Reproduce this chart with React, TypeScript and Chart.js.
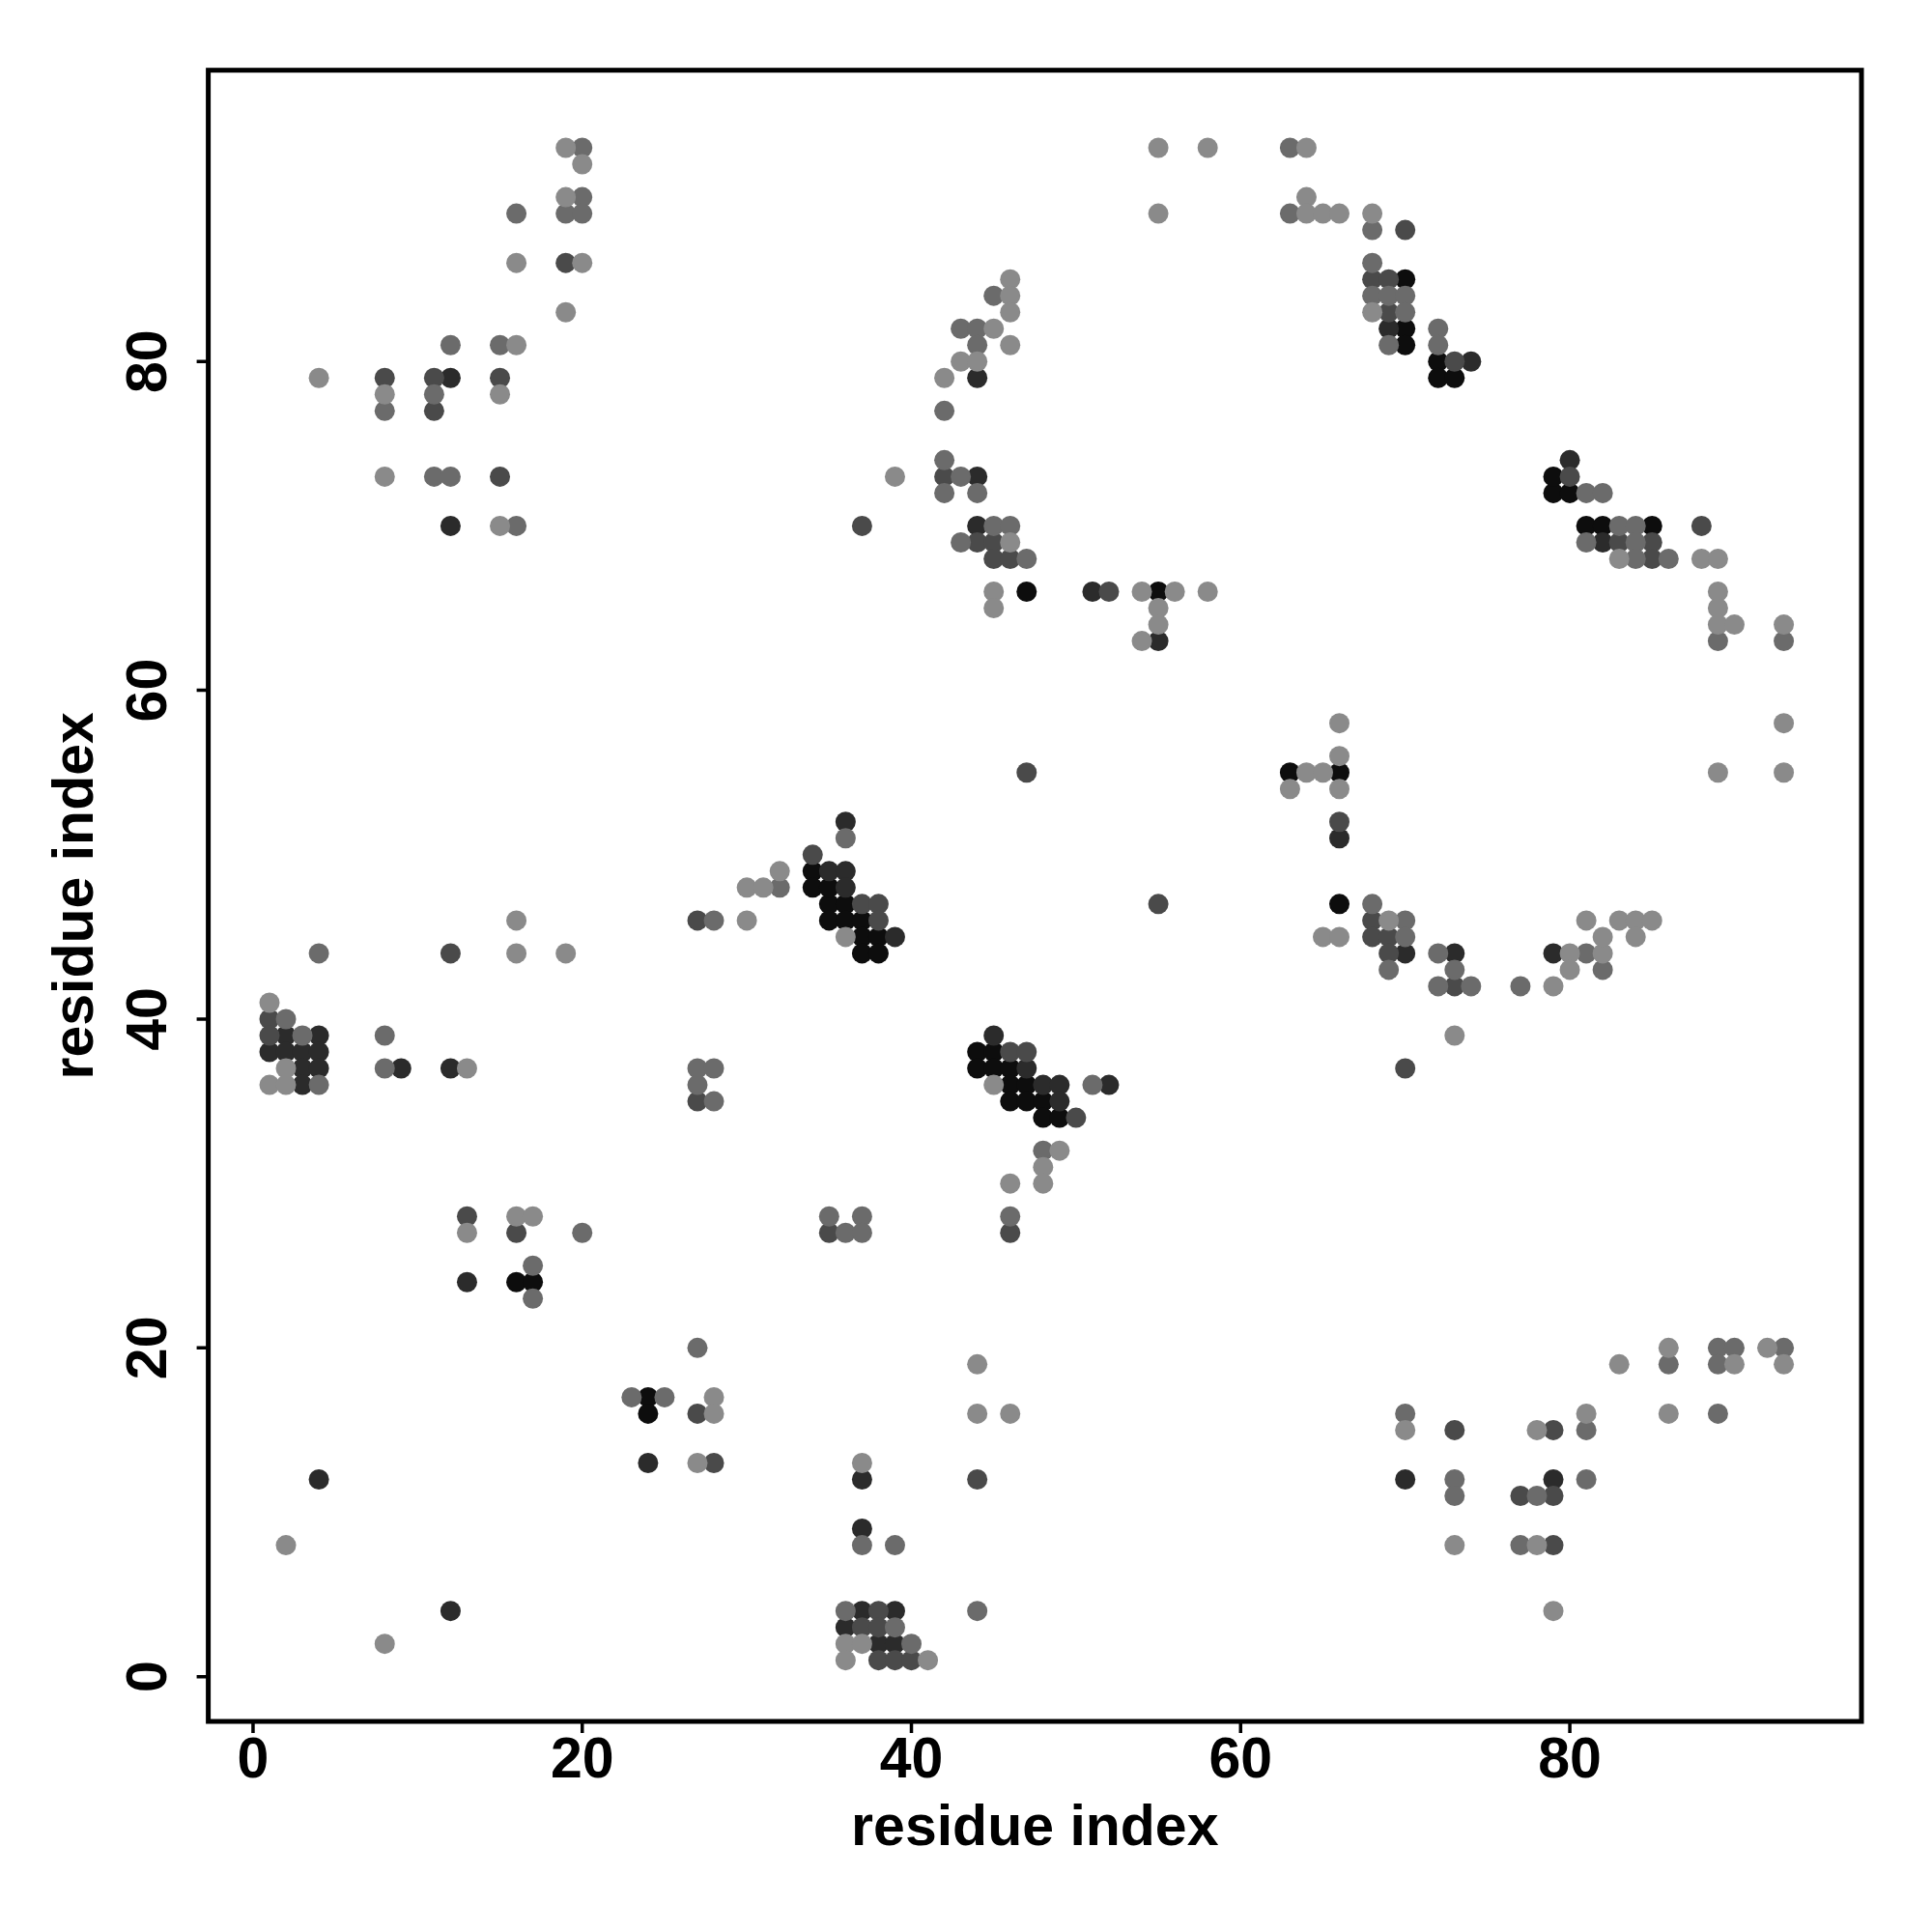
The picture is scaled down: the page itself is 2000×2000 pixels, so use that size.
import React, { useEffect, useRef } from "react";
import { Chart, registerables } from "chart.js";

Chart.register(...registerables);

// Contact points grouped by shade (x = residue index, y = residue index)
const lightPoints: number[][] = [
  [2,8],[8,2],[27,13],[28,17],[28,16],
  [37,13],[44,19],[44,16],[46,16],[36,2],[37,2],[36,1],[41,1],
  [70,15],[78,15],[81,16],[73,8],[78,8],[79,4],[83,19],[86,20],[86,16],[90,19],[92,20],[93,19],
  [16,46],[16,44],[19,44],[30,46],[1,41],[2,37],[1,36],[2,36],[13,37],[16,28],[17,28],[13,27],
  [45,36],[49,32],[48,31],[46,30],[48,30],[36,45],
  [69,46],[65,45],[66,45],[79,42],[80,44],[82,44],[80,43],[81,46],[83,46],[84,46],[85,46],[82,45],[84,45],[73,39],
  [15,70],[30,48],
  [46,69],[45,66],[54,66],[56,66],[58,66],[45,65],[55,65],[55,64],[54,63],[32,49],[31,48],
  [83,68],[88,68],[89,68],[89,66],[89,65],[89,64],[90,64],[93,64],[66,58],[93,58],[66,56],[64,55],[65,55],[89,55],[93,55],[63,54],[66,54],
  [19,93],[20,92],[19,90],[16,86],[20,86],[19,83],[16,81],[4,79],[8,78],[15,78],[8,73],
  [55,93],[58,93],[55,89],[46,85],[46,84],[46,83],[45,82],[46,81],[43,80],[44,80],[42,79],[39,73],
  [64,93],[64,90],[64,89],[65,89],[66,89],[68,89],[68,83],
];

const mediumPoints: number[][] = [
  [23,17],[25,17],[27,20],
  [37,8],[39,8],[44,4],[36,4],[39,3],[40,2],
  [70,16],[73,12],[73,11],[81,15],[81,12],[78,11],[77,8],[86,19],[89,20],[90,20],[89,19],[89,16],[93,20],
  [4,44],[28,46],[2,40],[3,39],[4,36],[8,39],[8,37],[27,37],[28,37],[27,36],[28,35],[20,27],[17,25],[17,23],
  [48,32],[51,36],[35,28],[37,28],[46,28],[36,27],[37,27],
  [68,47],[70,46],[70,45],[69,43],[72,44],[73,43],[72,42],[74,42],[77,42],[81,44],[82,43],
  [16,70],
  [42,72],[44,72],[45,70],[46,70],[43,69],[47,68],[36,51],[32,48],
  [83,70],[84,70],[81,69],[84,69],[84,68],[86,68],[89,63],[93,63],
  [81,72],[82,72],
  [20,93],[20,90],[19,89],[20,89],[16,89],[12,81],[15,81],[11,78],[8,77],[11,73],[12,73],
  [45,84],[43,82],[44,82],[44,81],[42,77],[42,74],[43,73],
  [63,93],[63,89],[68,88],[68,86],[68,84],[69,84],[70,84],[70,83],[69,81],[72,82],[72,81],
];

const darkPoints: number[][] = [
  [27,16],[28,13],
  [44,12],[38,4],[37,3],[38,3],[38,1],[39,1],[40,1],
  [73,15],[79,15],[77,11],[79,11],[79,8],
  [12,44],[27,46],[1,40],[1,39],[27,35],[13,28],[16,27],
  [37,47],[38,47],[38,46],[55,47],[46,38],[47,38],[50,34],[35,27],[46,27],
  [68,46],[68,45],[69,45],[69,44],[73,42],[70,37],
  [37,70],[44,69],[45,69],[45,68],[46,68],[52,66],[47,55],[34,50],
  [88,70],[83,69],[85,69],[85,68],[66,52],
  [19,86],[8,79],[11,79],[15,79],[11,77],[15,73],
  [42,73],
  [70,88],[68,85],[69,85],[69,83],[73,80],[80,73],
];

const veryDarkPoints: number[][] = [
  [4,12],[12,4],[24,13],
  [37,12],[37,9],[37,4],[39,4],[36,3],[38,2],[39,2],
  [70,12],[79,12],
  [2,39],[4,39],[1,38],[2,38],[3,38],[4,38],[3,37],[4,37],[3,36],[9,37],[12,37],[13,24],
  [39,45],[45,39],[47,37],[48,36],[49,36],[52,36],[49,35],
  [70,44],[73,44],[79,44],
  [12,70],
  [44,70],[51,66],[55,63],[36,52],[35,49],[36,49],[36,48],
  [82,69],[66,51],
  [12,79],
  [44,79],[44,73],
  [69,82],[74,80],[80,74],
];

const blackPoints: number[][] = [
  [24,17],[24,16],[16,24],[17,24],
  [35,47],[36,47],[35,46],[36,46],[37,46],[37,45],[38,45],[37,44],[38,44],
  [44,38],[45,38],[44,37],[45,37],[46,37],[46,36],[47,36],[46,35],[47,35],[48,35],[48,34],[49,34],
  [66,47],
  [47,66],[55,66],[34,49],[34,48],[35,48],
  [81,70],[82,70],[85,70],[63,55],[66,55],
  [79,72],[80,72],
  [70,85],[70,82],[70,81],[72,80],[72,79],[73,79],[79,73],
];

const xTickValues = [0, 20, 40, 60, 80];
const yTickValues = [0, 20, 40, 60, 80];
const xTitle = "residue index";
const yTitle = "residue index";

const FONT = 'bold 59px "Liberation Sans", Arial, Helvetica, sans-serif';

const decorPlugin = {
  id: "decor",
  afterDatasetsDraw(chart: any) {
    const { ctx, chartArea: a, scales } = chart;
    ctx.save();
    ctx.strokeStyle = "#000";
    ctx.lineWidth = 5;
    ctx.strokeRect(a.left, a.top, a.right - a.left, a.bottom - a.top);

    ctx.lineWidth = 3.5;
    ctx.beginPath();
    for (const v of xTickValues) {
      const px = scales.x.getPixelForValue(v);
      ctx.moveTo(px, a.bottom);
      ctx.lineTo(px, a.bottom + 12);
    }
    for (const v of yTickValues) {
      const py = scales.y.getPixelForValue(v);
      ctx.moveTo(a.left, py);
      ctx.lineTo(a.left - 12, py);
    }
    ctx.stroke();

    ctx.fillStyle = "#000";
    ctx.font = FONT;
    ctx.textAlign = "center";
    ctx.textBaseline = "middle";
    for (const v of xTickValues) {
      const px = scales.x.getPixelForValue(v);
      ctx.fillText(String(v), px, a.bottom + 42);
    }
    for (const v of yTickValues) {
      const py = scales.y.getPixelForValue(v);
      ctx.save();
      ctx.translate(a.left - 60, py);
      ctx.rotate(-Math.PI / 2);
      ctx.fillText(String(v), 0, 0);
      ctx.restore();
    }
    ctx.fillText(xTitle, (a.left + a.right) / 2, a.bottom + 112);
    ctx.save();
    ctx.translate(a.left - 136, (a.top + a.bottom) / 2);
    ctx.rotate(-Math.PI / 2);
    ctx.fillText(yTitle, 0, 0);
    ctx.restore();
    ctx.restore();
  },
};

function toData(pts: number[][]) {
  return pts.map((p) => ({ x: p[0], y: p[1] }));
}

export default function App() {
  const ref = useRef<HTMLCanvasElement | null>(null);
  useEffect(() => {
    if (!ref.current) return;
    const mk = (data: number[][], color: string) => ({
      data: toData(data),
      backgroundColor: color,
      borderWidth: 0,
      pointRadius: 10.5,
      pointHoverRadius: 10.5,
      showLine: false,
    });
    const chart = new Chart(ref.current, {
      type: "scatter",
      data: {
        datasets: [
          mk(lightPoints, "#8a8a8a"),
          mk(mediumPoints, "#6b6b6b"),
          mk(darkPoints, "#4a4a4a"),
          mk(veryDarkPoints, "#2b2b2b"),
          mk(blackPoints, "#0d0d0d"),
        ],
      },
      options: {
        animation: false,
        responsive: false,
        events: [],
        layout: { padding: { top: 72.7, right: 73, left: 0, bottom: 0 } },
        plugins: { legend: { display: false }, tooltip: { enabled: false } },
        scales: {
          x: {
            type: "linear",
            min: -2.72,
            max: 97.72,
            grid: { display: false },
            border: { display: false },
            ticks: { display: false },
            afterFit: (s: any) => { s.height = 218; },
          },
          y: {
            type: "linear",
            min: -2.72,
            max: 97.72,
            grid: { display: false },
            border: { display: false },
            ticks: { display: false },
            afterFit: (s: any) => { s.width = 215.6; },
          },
        },
      },
      plugins: [decorPlugin],
    } as any);
    return () => chart.destroy();
  }, []);
  return (
    <div style={{ position: "absolute", left: 0, top: 0, width: 2000, height: 2000, background: "#fff" }}>
      <canvas ref={ref} width={2000} height={2000} />
    </div>
  );
}
